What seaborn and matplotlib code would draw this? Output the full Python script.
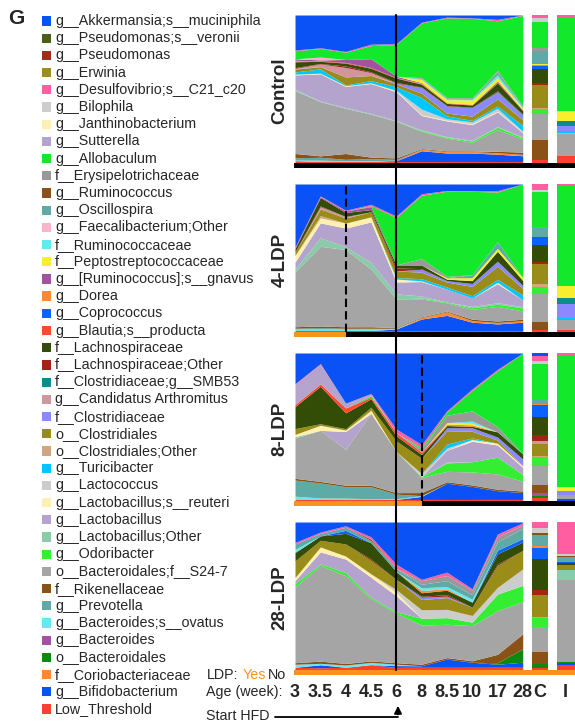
import numpy as np
import matplotlib
matplotlib.use("Agg")
import matplotlib.pyplot as plt
import seaborn as sns
from matplotlib.lines import Line2D
from matplotlib.patches import Rectangle, FancyArrowPatch

# taxa in legend order (legend top = top of the stack)
TAXA = [
    "g__Akkermansia;s__muciniphila", "g__Pseudomonas;s__veronii", "g__Pseudomonas",
    "g__Erwinia", "g__Desulfovibrio;s__C21_c20", "g__Bilophila", "g__Janthinobacterium",
    "g__Sutterella", "g__Allobaculum", "f__Erysipelotrichaceae", "g__Ruminococcus",
    "g__Oscillospira", "g__Faecalibacterium;Other", "f__Ruminococcaceae",
    "f__Peptostreptococcaceae", "g__[Ruminococcus];s__gnavus", "g__Dorea", "g__Coprococcus",
    "g__Blautia;s__producta", "f__Lachnospiraceae", "f__Lachnospiraceae;Other",
    "f__Clostridiaceae;g__SMB53", "g__Candidatus Arthromitus", "f__Clostridiaceae",
    "o__Clostridiales", "o__Clostridiales;Other", "g__Turicibacter", "g__Lactococcus",
    "g__Lactobacillus;s__reuteri", "g__Lactobacillus", "g__Lactobacillus;Other",
    "g__Odoribacter", "o__Bacteroidales;f__S24-7", "f__Rikenellaceae", "g__Prevotella",
    "g__Bacteroides;s__ovatus", "g__Bacteroides", "o__Bacteroidales",
    "f__Coriobacteriaceae", "g__Bifidobacterium", "Low_Threshold",
]
TAXA_COLORS = [
    "#0a52f5", "#4b5e16", "#a52a1a", "#9c8f1f", "#ff5fa0", "#cdcdcd", "#fdf0b0",
    "#b3a3cd", "#14e82a", "#999999", "#8a5216", "#5eaaa6", "#fdb2cd", "#66e8f0",
    "#f8ee30", "#a2529e", "#ff8833", "#0a62ff", "#ff4a30", "#334d06", "#a22414",
    "#0e8c8c", "#d0959d", "#8c88ff", "#9a8c18", "#d4a47e", "#00c8ff", "#cccccc",
    "#fff0b0", "#b3a3cd", "#8acba8", "#33ee33", "#a5a5a5", "#8a5216", "#5eaaa6",
    "#66e8f0", "#a2529e", "#0c8a0c", "#ff8833", "#0a52f5", "#ff4030",
]

TIME_LABELS = ["3", "3.5", "4", "4.5", "6", "8", "8.5", "10", "17", "28"]
EXTRA_LABELS = ["C", "I"]
PANELS = ["Control", "4-LDP", "8-LDP", "28-LDP"]
LDP_STOP = [None, 2, 5, "all"]   # time index where LDP ends
HFD_START = 4                     # week 6

# relative abundance (%) : 10 time points, then C and I
CONTROL = {
    "Low_Threshold":                 [1, 1, 1, 1, 1, 1, 1, 1, 1, 1, 2, 4.5],
    "g__Bifidobacterium":            [0.5, 0, 0, 0, 0.5, 7.5, 6, 6, 5, 4, 0, 0],
    "f__Coriobacteriaceae":          [0, 0, 0, 0, 0, 1, 1, 1, 1, 1, 0, 0],
    "g__Bacteroides":                [0, 0, 0, 0, 0.5, 0, 0, 0, 0, 0, 0, 0],
    "g__Bacteroides;s__ovatus":      [0.5, 1, 0.5, 0.5, 0, 0, 0, 0, 0, 0, 0, 0],
    "g__Prevotella":                 [1.5, 2, 1, 1.5, 0.5, 0, 0, 0, 0, 0, 0, 0],
    "f__Rikenellaceae":              [3, 1, 4, 1, 1, 0.5, 0.5, 0.5, 1, 1.5, 13.3, 0],
    "o__Bacteroidales;f__S24-7":     [43, 38, 31, 29.5, 25.5, 12, 9, 6, 15, 9, 16.7, 14.5],
    "g__Odoribacter":                [0.3, 0, 0, 0, 0, 0.5, 0.5, 1, 1.5, 1, 3.5, 0],
    "g__Lactobacillus;Other":        [0.5, 0.5, 0.5, 0.5, 0.5, 0.5, 0.5, 0.5, 0.5, 0.5, 0, 0.5],
    "g__Lactobacillus":              [10, 19, 14.5, 20.5, 20, 10, 11, 11, 10, 3, 0, 0],
    "g__Lactobacillus;s__reuteri":   [0.5, 0.5, 0.5, 0.5, 0.5, 0.5, 0.5, 0.5, 0.5, 0.5, 0, 0],
    "g__Lactococcus":                [0, 0, 0, 0, 0.5, 4, 1, 1.5, 2, 0.5, 0, 0],
    "g__Turicibacter":               [1.5, 3, 0.5, 1.5, 2.5, 8, 2, 1, 1.5, 4, 0, 1.5],
    "o__Clostridiales;Other":        [0, 0, 0, 0, 0, 0, 0, 0, 0, 0, 0.5, 0],
    "o__Clostridiales":              [2, 1.5, 5.5, 3.5, 2, 3, 2, 3, 5, 4, 15, 0],
    "f__Clostridiaceae":             [0.5, 0, 0, 0, 0.5, 4, 5, 6, 4.5, 3, 0, 3.3],
    "g__Candidatus Arthromitus":     [0, 2, 6.5, 2, 0, 0, 0, 0, 0, 0, 0, 0],
    "f__Clostridiaceae;g__SMB53":    [0, 0, 0, 0, 0, 0, 0, 0, 0.5, 0.5, 0, 3.3],
    "f__Lachnospiraceae;Other":      [0.5, 0.3, 1, 0.5, 0.5, 0.3, 0.3, 0.3, 0.5, 0.3, 1.5, 0],
    "f__Lachnospiraceae":            [4, 1.5, 2, 2.5, 3, 2, 1.5, 1.5, 5.5, 2.5, 9.5, 0],
    "g__Blautia;s__producta":        [0.5, 0.3, 0.5, 0.5, 0.3, 0.3, 0.3, 0.3, 0.5, 0.3, 0, 0],
    "g__Coprococcus":                [0, 0, 0, 0, 0, 0, 0, 0, 0.5, 0, 2, 0],
    "g__Dorea":                      [0.5, 0, 0, 0, 0, 0.3, 0.3, 0.3, 0.5, 0.3, 0.3, 0],
    "g__[Ruminococcus];s__gnavus":   [1, 0.7, 2, 6, 1, 0.5, 0, 0, 0, 0, 0, 0],
    "f__Peptostreptococcaceae":      [0, 0, 0, 0, 0, 2, 2, 3, 2, 1, 1, 6.7],
    "f__Ruminococcaceae":            [0, 0, 0, 0, 0, 0.5, 0.5, 0.5, 2, 0.5, 0, 0],
    "g__Faecalibacterium;Other":     [0, 2, 0, 0, 0, 0, 0, 0, 0, 0, 0, 0],
    "g__Oscillospira":               [0, 0, 0, 0, 0, 0.5, 0.5, 0.5, 2, 0.5, 8, 0],
    "g__Ruminococcus":               [0, 0, 0, 0, 0, 0, 0, 0, 0, 0, 0.5, 0],
    "f__Erysipelotrichaceae":        [0, 0, 0, 0, 0, 0.5, 0.5, 0.5, 1, 0.5, 1.5, 0],
    "g__Allobaculum":                [5.5, 6, 5, 9, 22, 38, 56, 56, 34, 63, 17.3, 62],
    "g__Bilophila":                  [0, 0, 0, 0, 0, 0, 0, 0, 0, 0, 2.7, 0],
    "g__Desulfovibrio;s__C21_c20":   [0.5, 0.5, 0.5, 1, 0.5, 0.5, 0.5, 0.3, 1, 0.3, 2, 1],
    "g__Akkermansia;s__muciniphila": [24, 23, 25, 20, 20, 5, 1.5, 2, 3, 0, 0, 0],
}

LDP4 = {
    "Low_Threshold":                 [1, 1, 1, 1, 1, 1, 1, 1, 1, 1, 1, 1],
    "g__Bifidobacterium":            [0, 0, 0, 0, 1, 8, 10.5, 5.7, 4.5, 5.7, 0, 0],
    "f__Coriobacteriaceae":          [0, 0, 0, 0, 0, 1, 2.5, 1, 1, 1, 0, 0],
    "g__Bacteroides;s__ovatus":      [1, 1, 1, 1, 0.5, 0, 0, 0, 0, 0, 0, 0],
    "g__Prevotella":                 [0.5, 1, 0.5, 0.5, 0, 0, 0, 0, 0, 0, 0, 0],
    "f__Rikenellaceae":              [1, 1, 1, 1, 0.5, 0.5, 0.5, 1, 1, 1, 5.7, 0],
    "o__Bacteroidales;f__S24-7":     [36.5, 53.5, 52, 38.6, 19.3, 12.5, 5.7, 6.8, 10, 5.7, 18, 6.8],
    "g__Odoribacter":                [0, 0, 0, 0, 0, 0.5, 0.5, 1, 1.5, 2, 5, 0],
    "g__Lactobacillus;Other":        [2, 5.7, 2, 4.5, 3.4, 1.5, 0, 1, 1, 1, 0, 0],
    "g__Lactobacillus":              [4.5, 10, 12.5, 27, 8, 10, 9, 5.7, 13, 4.5, 0, 0],
    "g__Lactobacillus;s__reuteri":   [4.5, 3.4, 3.4, 3.4, 2, 0.5, 0, 0, 1, 0, 0, 0],
    "g__Turicibacter":               [0, 0, 0, 0, 1, 1.5, 1.5, 1.5, 2, 3.4, 0, 1.8],
    "o__Clostridiales;Other":        [0, 1.5, 0, 0, 0, 0, 0, 0, 0, 0, 1.8, 0],
    "o__Clostridiales":              [2, 4.5, 3.4, 3.4, 4.5, 4.5, 3.4, 6.4, 9, 4.5, 13, 0],
    "f__Clostridiaceae":             [0, 0, 0, 0, 0, 2, 1, 2, 3.4, 2, 0, 9.5],
    "g__Candidatus Arthromitus":     [0, 1.5, 1, 0, 0, 0, 0, 0, 0, 0, 0, 0],
    "f__Clostridiaceae;g__SMB53":    [0, 0, 0, 0, 0, 0, 0, 0, 0, 0, 0, 4],
    "f__Lachnospiraceae;Other":      [0.5, 0.5, 0, 0, 2, 0.5, 0, 0, 0, 0, 1.8, 0],
    "f__Lachnospiraceae":            [2, 5.7, 2.7, 1.5, 2, 2.5, 1, 2, 6.8, 3.4, 10.7, 0],
    "g__Blautia;s__producta":        [0.5, 0, 0, 0, 0, 0, 0, 0, 0, 0, 0, 0],
    "g__Coprococcus":                [0, 0, 0, 0, 0, 0, 0, 0, 0, 0, 5.5, 0],
    "g__[Ruminococcus];s__gnavus":   [0, 0.5, 1, 2, 0, 0, 0, 0, 0, 0, 0, 0],
    "f__Peptostreptococcaceae":      [0, 0, 0, 0, 0, 0, 1, 2, 2, 2, 0, 8],
    "g__Oscillospira":               [0, 0, 0, 0, 0, 0, 0, 2, 4.5, 0, 5.7, 0],
    "f__Erysipelotrichaceae":        [0, 0, 0, 0, 0, 4.5, 1, 0, 0, 0, 1, 0],
    "g__Allobaculum":                [0, 0, 0, 0.5, 32, 44, 59, 57, 34, 64, 22.7, 68],
    "g__Bilophila":                  [0, 0, 0, 0, 0, 0, 0, 0, 0, 0, 1.5, 0],
    "g__Desulfovibrio;s__C21_c20":   [0.5, 0.5, 0.5, 1, 1, 1, 0.5, 0.5, 1, 0, 4, 1],
    "g__Akkermansia;s__muciniphila": [42, 8, 17.7, 13.6, 21.6, 6.8, 4.5, 4.5, 4.5, 0, 0, 0],
}

LDP8 = {
    "Low_Threshold":                 [1, 1, 1, 1, 1, 1, 1, 1, 1, 1, 1.8, 0],
    "g__Bifidobacterium":            [0, 0, 0, 0, 0, 2, 11, 8.7, 5.7, 4.5, 0, 1],
    "o__Bacteroidales":              [0, 0, 0, 0, 0, 0, 0, 0, 0, 0, 1.7, 0],
    "g__Bacteroides":                [0, 0, 0, 0, 0, 0, 0, 0, 0, 0, 1.7, 0],
    "g__Bacteroides;s__ovatus":      [2.3, 1, 1, 0.5, 0.5, 0.5, 0, 0, 0, 0, 0, 0],
    "g__Prevotella":                 [11, 10, 8, 8, 3, 0, 0, 0, 0, 0, 0, 0],
    "f__Rikenellaceae":              [1.2, 1, 1, 1, 1, 2, 1, 1, 1, 1, 5.2, 0],
    "o__Bacteroidales;f__S24-7":     [27.5, 34, 25, 48, 27, 10, 7, 8.7, 10, 6.4, 13, 2.7],
    "g__Odoribacter":                [0, 0, 0, 0, 0, 0.5, 5.7, 6.8, 11, 4.5, 5.7, 0],
    "g__Lactobacillus;Other":        [1, 0, 0, 0, 0, 0, 0.5, 0, 0, 0, 0, 0],
    "g__Lactobacillus":              [0, 0, 12.5, 0, 0, 0, 8, 13.7, 8, 4.5, 0, 0],
    "g__Lactobacillus;s__reuteri":   [1.5, 3.4, 1, 2, 0, 0, 0, 1.2, 1.2, 1, 0, 0],
    "g__Lactococcus":                [0, 0, 0, 0, 0, 2, 1.5, 0, 0, 0, 0, 0],
    "g__Turicibacter":               [0, 0, 0, 0, 0, 0, 2.7, 1, 0, 0, 0, 0],
    "o__Clostridiales;Other":        [0, 0, 0, 0, 0, 0, 0, 0, 0, 0, 1, 0],
    "o__Clostridiales":              [4, 1, 1, 2, 7, 10, 9, 4.5, 2, 0, 7.5, 0],
    "f__Clostridiaceae":             [0, 0, 0, 0, 0, 0, 2, 2.3, 2, 4.5, 0, 3],
    "g__Candidatus Arthromitus":     [0, 0, 0, 0, 0, 0, 0, 0, 0, 0, 2.5, 0],
    "f__Lachnospiraceae;Other":      [0, 0, 0, 0, 0, 0, 0, 0, 0, 0, 3.4, 0],
    "f__Lachnospiraceae":            [15, 25, 11, 5.7, 3.4, 2.5, 1.5, 1, 3.4, 3.4, 12, 0],
    "g__Blautia;s__producta":        [1.5, 1.6, 3.4, 1, 2, 1.5, 0, 0, 0, 0, 0, 0],
    "g__Coprococcus":                [0, 0, 0, 0, 0, 0, 0, 0, 0, 0, 8, 0],
    "g__Dorea":                      [0, 0, 0, 0, 0, 0, 1, 1, 0, 0, 1, 0],
    "f__Peptostreptococcaceae":      [0, 0, 0, 0, 0, 0, 1, 1, 0, 0, 0, 2.3],
    "f__Ruminococcaceae":            [0, 0, 0, 0, 0, 0, 0, 1.5, 0, 0, 0, 0],
    "g__Oscillospira":               [0, 0, 0, 0, 0, 0, 0, 0, 0, 0, 2.7, 0],
    "f__Erysipelotrichaceae":        [0, 0, 0, 0, 0, 2, 5, 6.8, 3.4, 0, 0, 0],
    "g__Allobaculum":                [0, 0, 0, 1, 0, 1, 2, 13.7, 36.6, 66, 24, 88],
    "g__Sutterella":                 [13.7, 13, 3.4, 1, 0, 0, 0, 0, 0, 0, 0, 0],
    "g__Bilophila":                  [0, 0, 0, 0, 0, 0, 0, 0, 0, 0, 2, 0],
    "g__Desulfovibrio;s__C21_c20":   [0.5, 0.5, 0, 0.5, 2.5, 2, 1, 1, 1, 0, 2.7, 1.5],
    "g__Akkermansia;s__muciniphila": [21, 7, 35, 27, 50, 60, 39, 24, 10.7, 0, 2.3, 0],
}

LDP28 = {
    "Low_Threshold":                 [1.8, 1.5, 1.8, 3.6, 1.8, 1.8, 1.8, 1.8, 1.8, 1.8, 1, 3],
    "g__Bifidobacterium":            [0, 2, 0, 0, 1.2, 1, 5.6, 3.4, 2, 3.4, 0, 1.5],
    "o__Bacteroidales":              [0, 0, 0, 0, 0, 0, 0, 0, 1, 9, 3, 1],
    "g__Bacteroides;s__ovatus":      [2, 1, 1.5, 1.5, 1, 0, 0, 0, 0, 0, 0, 0],
    "f__Rikenellaceae":              [1, 1.5, 1, 1, 1, 1, 1, 1, 5.6, 10, 8, 0],
    "o__Bacteroidales;f__S24-7":     [50, 65, 58, 42, 34, 26, 22.6, 23.7, 29, 21.5, 17, 53.5],
    "g__Odoribacter":                [2.3, 1, 2, 1, 1, 4.5, 4.5, 2.3, 11, 11, 5.6, 0],
    "g__Lactobacillus;Other":        [0, 0, 0, 0, 0, 0, 0, 0, 0, 0, 0, 6.3],
    "g__Lactobacillus":              [2, 8, 9, 13.5, 11, 0, 0, 0, 0, 0, 0, 0],
    "g__Lactobacillus;s__reuteri":   [2, 3.4, 2, 2.3, 2.3, 0, 0, 0, 0, 0, 0, 0],
    "g__Lactococcus":                [0, 0, 0, 0, 2, 5.6, 5.6, 4.5, 4.5, 11, 0, 0],
    "o__Clostridiales;Other":        [0, 0, 0, 0, 0, 0, 0, 0, 0, 0, 0.5, 0],
    "o__Clostridiales":              [11, 4.5, 8, 9, 6.8, 6.8, 8, 5.6, 14.6, 12.4, 15, 3.4],
    "f__Clostridiaceae":             [0, 0, 0, 0, 0, 1.5, 1, 0, 0, 0, 0, 0],
    "f__Lachnospiraceae;Other":      [0, 0, 0, 1, 0, 0.7, 1, 0, 1, 0, 3.4, 0],
    "f__Lachnospiraceae":            [5.6, 3, 7, 11, 5.6, 2.3, 3, 3.4, 6.8, 5.6, 21, 1.5],
    "g__Coprococcus":                [0, 0, 2, 0, 0, 0, 0, 0, 2.3, 2.3, 7, 0.5],
    "g__Dorea":                      [0, 0, 0, 0, 0, 1.5, 1, 0, 0, 0, 1.5, 0],
    "f__Ruminococcaceae":            [2, 0, 0, 0, 0, 1.8, 1.5, 2, 0, 0, 0, 0],
    "g__Oscillospira":               [3.6, 1.6, 2, 1.5, 2, 2.3, 4, 3, 5.6, 6.8, 7, 3.4],
    "g__Ruminococcus":               [0, 0, 0, 1, 0, 0, 0, 0, 0, 0, 1.5, 1],
    "f__Erysipelotrichaceae":        [0, 0, 0, 0, 0, 2.3, 3.5, 3, 3.4, 2.3, 0, 0],
    "g__Bilophila":                  [0, 0, 0, 0, 0, 0, 0, 0, 0, 0, 3.4, 1],
    "g__Desulfovibrio;s__C21_c20":   [1, 1, 1, 1.5, 3, 1, 2.3, 1, 1.8, 1.5, 4, 21],
    "g__Akkermansia;s__muciniphila": [13.5, 6.8, 2.5, 10, 29, 38, 34, 45, 8, 0.5, 0, 0],
}

PANEL_DATA = [CONTROL, LDP4, LDP8, LDP28]

W, H = 575, 722
YES_COLOR = "#f7941d"


def fx(px):
    return px / W


def fy(py):
    return 1 - py / H


def draw_panel(ax, data, ldp_stop, show_labels):
    n_time = len(TIME_LABELS)
    bar_x = [n_time - 1 + 0.68, n_time - 1 + 1.71]
    bar_w = [0.63, 0.68]
    vals = np.array([data.get(t, [0] * 12) for t in TAXA[::-1]], dtype=float)
    vals = vals / vals.sum(axis=0) * 100
    colors = TAXA_COLORS[::-1]

    ax.stackplot(np.arange(n_time), vals[:, :n_time], colors=colors, linewidth=0)
    tops = np.cumsum(vals, axis=0)
    for j, (bx, bw) in enumerate(zip(bar_x, bar_w)):
        col = n_time + j
        ax.bar(np.full(len(TAXA), bx), vals[:, col], bottom=tops[:, col] - vals[:, col],
               width=bw, color=colors, linewidth=0)

    # LDP strip under the panel
    x0, x1 = -0.04, 11.05
    if ldp_stop is None:
        ax.fill_between([x0, x1], -3.4, 0, color="black", lw=0)
    elif ldp_stop == "all":
        ax.fill_between([x0, x1], -3.4, 0, color=YES_COLOR, lw=0)
    else:
        ax.fill_between([x0, ldp_stop], -3.4, 0, color=YES_COLOR, lw=0)
        ax.fill_between([ldp_stop, x1], -3.4, 0, color="black", lw=0)
        ax.plot([ldp_stop, ldp_stop], [0, 100], color="black", lw=1.5, dashes=(4, 2))

    ax.set_xlim(x0, x1)
    ax.set_ylim(-3.4, 100)
    ax.set_yticks([])
    ax.set_xticks(list(range(n_time)) + bar_x[:1] + [n_time - 1 + 1.67])
    ax.tick_params(axis="x", length=4.5, width=1.5, direction="out", pad=2, color="black")
    if show_labels:
        ax.set_xticklabels(TIME_LABELS + EXTRA_LABELS, fontweight="bold", fontsize=13,
                           family=["Liberation Sans Narrow", "Liberation Sans"])
    else:
        ax.set_xticklabels([])
    for s in ax.spines.values():
        s.set_visible(False)
    ax.set_facecolor("white")


sns.set_theme(style="white")
plt.rcParams["font.family"] = ["Liberation Sans", "DejaVu Sans"]

fig = plt.figure(figsize=(W / 100, H / 100), dpi=100)

panel_tops = [15, 184, 353, 522]
for k, (name, data, stop) in enumerate(zip(PANELS, PANEL_DATA, LDP_STOP)):
    top = panel_tops[k]
    ax = fig.add_axes([fx(294), fy(top + 153), 280.6 / W, 153 / H])
    draw_panel(ax, data, stop, k == len(PANELS) - 1)
    # start of HFD, runs through the gaps between panels
    low = 0 if k == len(PANELS) - 1 else -14.2
    ax.plot([HFD_START, HFD_START], [low, 100], color="black", lw=1.5, clip_on=False)
    fig.text(fx(280), fy(top + 76), name, rotation=90, fontweight="bold", fontsize=13.5,
             ha="center", va="center")

# legend
for i, (name, color) in enumerate(zip(TAXA, TAXA_COLORS)):
    yc = 21 + 17.2 * i
    fig.patches.append(Rectangle((fx(42), fy(yc + 4.6)), 9.3 / W, 9.3 / H,
                                 transform=fig.transFigure, color=color, lw=0))
    fig.text(fx(55), fy(yc), name, fontsize=10.3, va="center")

fig.text(fx(8), fy(19), "G", fontsize=15, fontweight="bold", va="center")

# bottom notes
fig.text(fx(206.5), fy(675), "LDP:", fontsize=10.3, va="center")
fig.text(fx(243), fy(675), "Yes", fontsize=10.3, va="center", color=YES_COLOR)
fig.text(fx(268), fy(675), "No", fontsize=10.3, va="center")
fig.text(fx(206.5), fy(692), "Age (week):", fontsize=10.3, va="center")
fig.text(fx(206.5), fy(716), "Start HFD", fontsize=10.3, va="center")
fig.add_artist(Line2D([fx(275), fx(398)], [fy(716.5), fy(716.5)],
                      transform=fig.transFigure, color="black", lw=1.3))
fig.add_artist(FancyArrowPatch((fx(398), fy(717.2)), (fx(398), fy(703)),
                               transform=fig.transFigure, arrowstyle="-|>",
                               mutation_scale=11, lw=1.3, color="black"))

fig.savefig("out.png", dpi=100)
